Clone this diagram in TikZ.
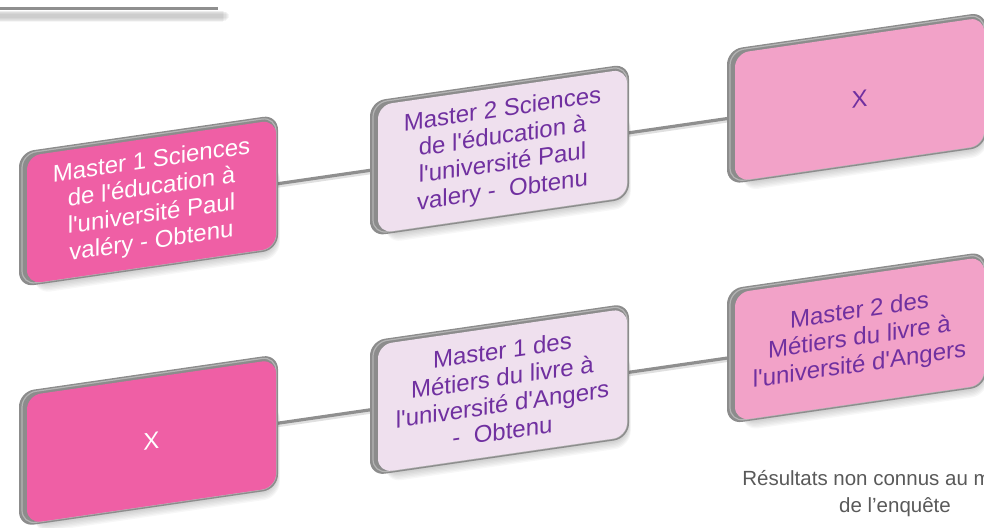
\documentclass[tikz,border=0pt]{standalone}
\usepackage{fontspec}
\setmainfont{Liberation Sans}
\usetikzlibrary{calc}
\definecolor{pinkA}{HTML}{EF5FA5}
\definecolor{pinkB}{HTML}{F2A2C8}
\definecolor{lav}{HTML}{EFE0EE}
\definecolor{purp}{HTML}{7030A0}
\definecolor{slabgray}{HTML}{8C8C8C}
\definecolor{conngray}{HTML}{8F8F8F}
\definecolor{notegray}{HTML}{595959}
\newcommand\sq{\textquotesingle}
\pgfdeclarelayer{bg}
\pgfsetlayers{bg,main}
% decorative base (shadow + grey slab) of a box centred at (#1,#2)
\newcommand\boxbase[2]{%
  \foreach \k in {1,...,7} {
    \fill[black, opacity=0.03, rounded corners=16pt]
      (#1-120+\k*0.4, #2-64-1-\k*1.4) rectangle (#1+124.5+1+\k*0.4, #2+20);
  }
  \fill[slabgray, rounded corners=15pt]
    (#1-124.5-8, #2-64-2) rectangle (#1+124.5+2, #2+64+5);
  \draw[white, opacity=0.35, line width=1.2pt, rounded corners=14pt]
    (#1-124.5-5, #2-64) rectangle (#1+124.5, #2+64+3);
}
\tikzset{
  boxface/.style={rounded corners=14pt, minimum width=249pt, minimum height=128pt,
    inner sep=0pt, align=center, font=\fontsize{24}{27}\selectfont, transform shape},
  darkbox/.style={boxface, fill=pinkA, text=white},
  lightbox/.style={boxface, fill=pinkB, text=purp},
  lavbox/.style={boxface, fill=lav, text=purp},
  connector/.style={draw=conngray, line width=3.2pt},
  connshadow/.style={draw=black, opacity=0.12, line width=3pt},
}
\begin{document}
\begin{tikzpicture}[x=1pt,y=1pt]
\useasboundingbox (0,0) rectangle (984,527);
\clip (0,0) rectangle (984,527);

% top-left rule with its shadow
\coordinate (r0) at (0,518);
\coordinate (r1) at (218,518);
\foreach \k in {1,...,6} {
  \fill[black, opacity=0.035] (0,517-\k*0.6) rectangle (222+\k*1.2,504+\k*0.8);
}
\draw[conngray, line width=3pt] (r0) -- (r1);

\begin{scope}[yslant=0.145]
  \boxbase{151.5}{303}
  \node[darkbox] (b1) at (151.5,303) {Master 1 Sciences\\de l\sq éducation à\\l\sq université Paul\\valéry - Obtenu};
  \boxbase{502.5}{303}
  \node[lavbox] (b2) at (502.5,303) {Master 2 Sciences\\de l\sq éducation à\\l\sq université Paul\\valery -\ \ Obtenu};
  \boxbase{859.5}{303}
  \node[lightbox] (b3) at (859.5,303) {X};
  \boxbase{151.5}{63.5}
  \node[darkbox] (b4) at (151.5,63.5) {X};
  \boxbase{502.5}{63.5}
  \node[lavbox] (b5) at (502.5,63.5) {Master 1 des\\Métiers du livre à\\l\sq université d\sq Angers\\-\ \ Obtenu};
  \boxbase{859.5}{63.5}
  \node[lightbox] (b6) at (859.5,63.5) {Master 2 des\\Métiers du livre à\\l\sq université d\sq Angers};

  \begin{pgfonlayer}{bg}
    \draw[connshadow] ([yshift=-2.5pt]b1.east) -- ([yshift=-2.5pt]b2.west);
    \draw[connshadow] ([yshift=-2.5pt]b2.east) -- ([yshift=-2.5pt]b3.west);
    \draw[connshadow] ([yshift=-2.5pt]b4.east) -- ([yshift=-2.5pt]b5.west);
    \draw[connshadow] ([yshift=-2.5pt]b5.east) -- ([yshift=-2.5pt]b6.west);
    \draw[connector] (b1.east) -- (b2.west);
    \draw[connector] (b2.east) -- (b3.west);
    \draw[connector] (b4.east) -- (b5.west);
    \draw[connector] (b5.east) -- (b6.west);
  \end{pgfonlayer}
\end{scope}

\node[text=notegray, align=center, font=\fontsize{20.5}{27}\selectfont] (note) at (895,33)
  {Résultats non connus au moment\\de l’enquête};
\end{tikzpicture}
\end{document}
